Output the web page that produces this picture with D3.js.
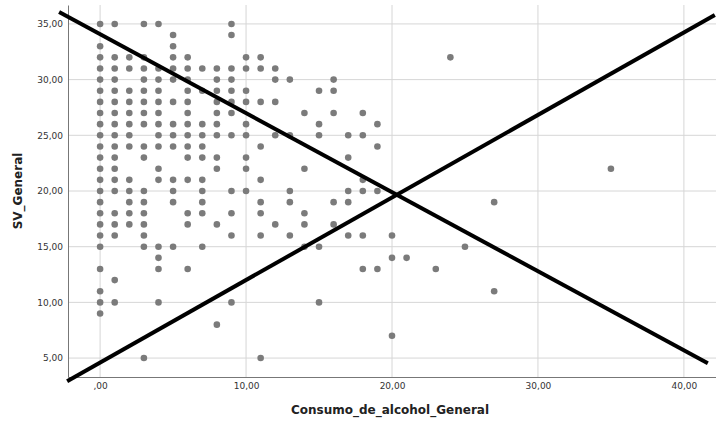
<!DOCTYPE html>
<html>
<head>
<meta charset="utf-8">
<script src="https://cdnjs.cloudflare.com/ajax/libs/d3/7.8.5/d3.min.js"></script>
<style>
	body { margin: 0; background: #fff; }
	svg text { font-family: 'DejaVu Sans', sans-serif; }
</style>
</head>
<body>
<script>
// SV_General levels (rows) and the Consumo_de_alcohol_General values observed at each level
const filasSV = [35, 34, 33, 32, 31, 30, 29, 28, 27, 26, 25, 24, 23, 22, 21, 20, 19, 18, 17, 16, 15, 14, 13, 12, 11, 10, 9, 8, 7, 5]
const consumoPorFila = [
	[0, 1, 3, 4, 9],
	[5, 9],
	[0, 5],
	[0, 1, 2, 3, 5, 6, 10, 11, 24],
	[0, 1, 2, 3, 4, 5, 6, 7, 8, 9, 10, 11, 12],
	[0, 1, 3, 4, 5, 6, 8, 9, 12, 13, 16],
	[0, 1, 2, 3, 4, 6, 7, 8, 9, 10, 15, 16],
	[0, 1, 2, 3, 4, 5, 6, 8, 9, 10, 11, 12],
	[0, 1, 2, 3, 4, 6, 8, 9, 14, 16, 18],
	[0, 1, 2, 3, 4, 5, 6, 7, 8, 10, 15, 19],
	[0, 1, 2, 4, 5, 6, 7, 8, 9, 10, 12, 13, 15, 17, 18],
	[0, 1, 2, 3, 4, 5, 6, 7, 11, 19],
	[0, 1, 3, 6, 7, 8, 10, 17],
	[0, 1, 4, 8, 10, 14, 35],
	[0, 1, 2, 4, 5, 6, 7, 11, 18],
	[0, 1, 2, 3, 5, 7, 9, 10, 13, 17, 18, 19],
	[0, 2, 3, 5, 7, 11, 13, 16, 17, 27],
	[0, 1, 2, 3, 6, 7, 9, 11, 14],
	[0, 1, 2, 3, 6, 8, 12, 14, 16],
	[0, 1, 3, 9, 11, 13, 17, 18, 20],
	[0, 3, 4, 5, 7, 14, 15, 25],
	[4, 20, 21],
	[0, 4, 6, 18, 19, 23],
	[1],
	[0, 27],
	[0, 1, 4, 9, 15],
	[0],
	[8],
	[20],
	[3, 11]
]
const xTicks = [0, 10, 20, 30, 40]
const yTicks = [5, 10, 15, 20, 25, 30, 35]
// the two straight lines drawn over the scatter (data units)
const lineaDesc = [[-2.81, 36.08], [41.64, 4.54]]
const lineaAsc = [[-2.26, 2.92], [42.12, 35.81]]

const W = 716, H = 423
const m = { left: 68, right: 716, top: 5, bottom: 377 }
const fmt = v => d3.format('.2f')(v).replace('.', ',').replace(/^0,/, ',')

const puntos = []
filasSV.forEach((sv, i) => consumoPorFila[i].forEach(c => puntos.push({ x: c, y: sv })))

const x = d3.scaleLinear().domain([-2.2, 42.2]).range([m.left, m.right])
const y = d3.scaleLinear().domain([3.3, 36.7]).range([m.bottom, m.top])

const svg = d3.select('body').append('svg')
	.attr('width', W).attr('height', H)

// grid
svg.append('g').selectAll('line.v').data(xTicks).join('line')
	.attr('x1', d => x(d)).attr('x2', d => x(d))
	.attr('y1', m.top).attr('y2', m.bottom)
	.attr('stroke', '#d6d6d6')
svg.append('g').selectAll('line.h').data(yTicks).join('line')
	.attr('x1', m.left).attr('x2', m.right)
	.attr('y1', d => y(d)).attr('y2', d => y(d))
	.attr('stroke', '#d6d6d6')

// axes
const xAxis = svg.append('g').attr('transform', `translate(0,${m.bottom})`)
	.call(d3.axisBottom(x).tickValues(xTicks).tickFormat(fmt).tickSize(0).tickPadding(6))
const yAxis = svg.append('g').attr('transform', `translate(${m.left},0)`)
	.call(d3.axisLeft(y).tickValues(yTicks).tickFormat(fmt).tickSize(0).tickPadding(5))
;[xAxis, yAxis].forEach(a => {
	a.select('.domain').attr('stroke', '#777').attr('stroke-width', 1)
	a.selectAll('text').attr('fill', '#333').style('font-size', '9px')
})

// points
svg.append('g').selectAll('circle').data(puntos).join('circle')
	.attr('cx', d => x(d.x)).attr('cy', d => y(d.y))
	.attr('r', 3.3)
	.attr('fill', '#7b7b7b')

// overlaid lines
const line = d3.line().x(d => x(d[0])).y(d => y(d[1]))
svg.append('g').selectAll('path').data([lineaDesc, lineaAsc]).join('path')
	.attr('d', line)
	.attr('fill', 'none')
	.attr('stroke', '#000')
	.attr('stroke-width', 4)

// titles
svg.append('text')
	.attr('x', 390).attr('y', 414)
	.attr('text-anchor', 'middle')
	.style('font-size', '12px').style('font-weight', 'bold').attr('fill', '#222')
	.text('Consumo_de_alcohol_General')
svg.append('text')
	.attr('transform', `translate(22,${(m.top + m.bottom) / 2}) rotate(-90)`)
	.attr('text-anchor', 'middle')
	.style('font-size', '12px').style('font-weight', 'bold').attr('fill', '#222')
	.text('SV_General')
</script>
</body>
</html>
